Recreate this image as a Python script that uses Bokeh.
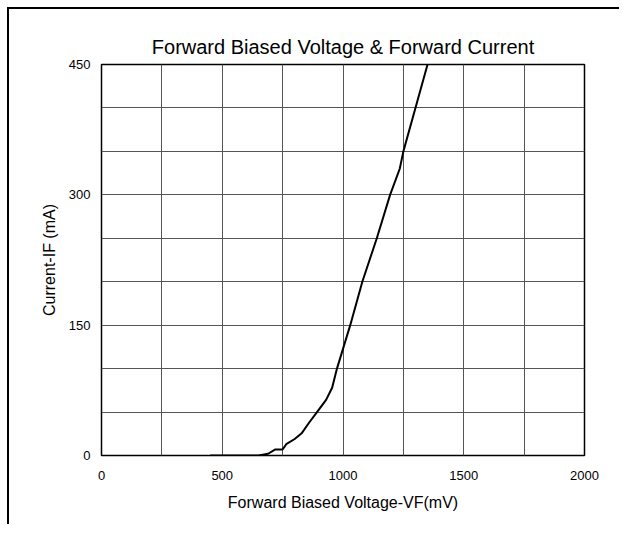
from bokeh.plotting import figure
from bokeh.models import Range1d, FixedTicker
from bokeh.embed import file_html
from bokeh.resources import INLINE

# Data
vf_mv = [450, 650, 690, 720, 750, 765, 800, 830, 860, 890, 930, 955, 975, 1030, 1080, 1140, 1195, 1235, 1250, 1300, 1350]
if_ma = [0, 0, 2, 7, 7, 13, 19, 26, 38, 49, 64, 78, 100, 150, 200, 250, 300, 330, 350, 400, 450]

x_tick_labels = [0, 500, 1000, 1500, 2000]
x_grid_ticks = [250, 500, 750, 1000, 1250, 1500, 1750]
y_tick_labels = [0, 150, 300, 450]
y_grid_ticks = [50, 100, 150, 200, 250, 300, 350, 400]

FONT = "Liberation Sans"

p = figure(width=612, height=517, output_backend="svg", toolbar_location=None,
           x_range=Range1d(0, 2000), y_range=Range1d(0, 450),
           title="Forward Biased Voltage & Forward Current",
           min_border_left=92, min_border_right=37, min_border_top=55, min_border_bottom=71)
p.styles = {"border-top": "2px solid black", "border-left": "2px solid black",
            "margin-left": "7px", "margin-top": "7px"}

p.title.align = "center"
p.title.text_font = FONT
p.title.text_font_size = "20px"
p.title.text_font_style = "normal"
p.title.text_color = "black"
p.title.standoff = 14

p.outline_line_color = "black"
p.outline_line_width = 1.5

for ax in (p.xaxis, p.yaxis):
    ax.axis_line_color = None
    ax.major_tick_line_color = None
    ax.minor_tick_line_color = None
    ax.major_tick_out = 0
    ax.major_tick_in = 0
    ax.minor_tick_out = 0
    ax.major_label_text_font = FONT
    ax.major_label_text_font_size = "13px"
    ax.major_label_text_color = "black"
    ax.axis_label_text_font = FONT
    ax.axis_label_text_font_size = "16px"
    ax.axis_label_text_font_style = "normal"
    ax.axis_label_text_color = "black"

p.xaxis.ticker = FixedTicker(ticks=x_tick_labels)
p.yaxis.ticker = FixedTicker(ticks=y_tick_labels)
p.xaxis.major_label_standoff = 15
p.yaxis.major_label_standoff = 11
p.xaxis.axis_label = "Forward Biased Voltage-VF(mV)"
p.yaxis.axis_label = "Current-IF (mA)"
p.xaxis.axis_label_standoff = 11
p.yaxis.axis_label_standoff = 8

p.xgrid.ticker = FixedTicker(ticks=x_grid_ticks)
p.ygrid.ticker = FixedTicker(ticks=y_grid_ticks)
for g in (p.xgrid, p.ygrid):
    g.grid_line_color = "#555555"
    g.grid_line_width = 1
    g.grid_line_alpha = 1.0

p.line(vf_mv, if_ma, line_color="black", line_width=2)

open("out.html", "w").write(file_html(p, INLINE))
